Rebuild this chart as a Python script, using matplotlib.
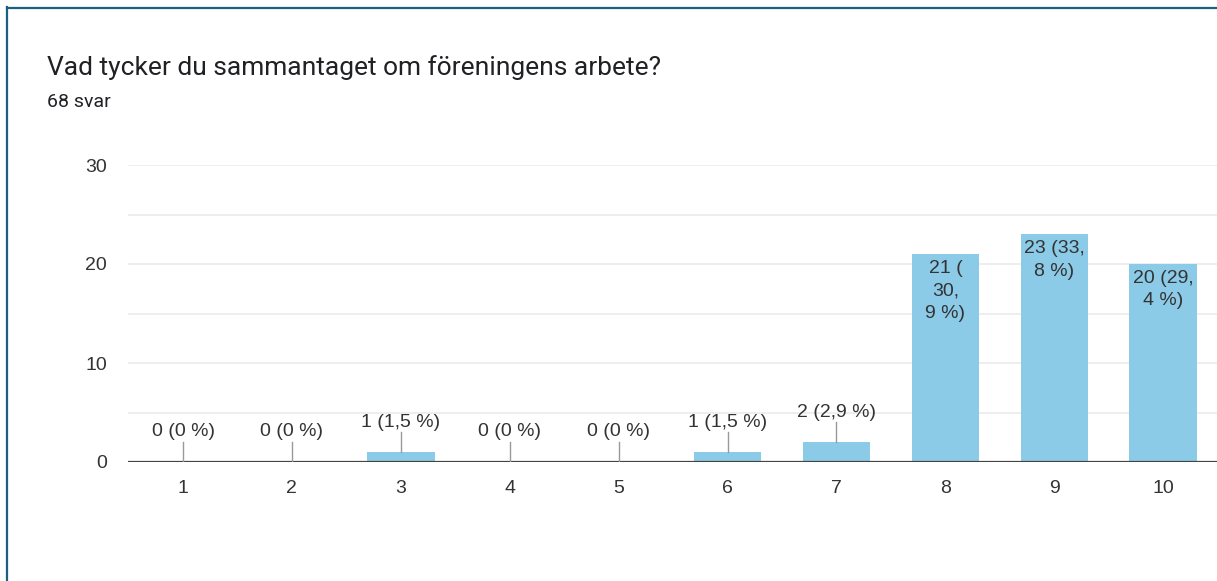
import matplotlib
matplotlib.use("Agg")
import matplotlib.pyplot as plt
from matplotlib.lines import Line2D

title = "Vad tycker du sammantaget om föreningens arbete?"
subtitle = "68 svar"
categories = ["1", "2", "3", "4", "5", "6", "7", "8", "9", "10"]
counts = [0, 0, 1, 0, 0, 1, 2, 21, 23, 20]
value_labels = ["0 (0 %)", "0 (0 %)", "1 (1,5 %)", "0 (0 %)", "0 (0 %)",
                "1 (1,5 %)", "2 (2,9 %)", "21 (\n30,\n9 %)", "23 (33,\n8 %)",
                "20 (29,\n4 %)"]
y_ticks = [0, 10, 20, 30]

W, H = 1217, 581
dpi = 100
fig = plt.figure(figsize=(W / dpi, H / dpi), dpi=dpi)
fig.patch.set_facecolor("white")

ax = fig.add_axes([128 / W, (H - 462) / H, (W - 128) / W + 0.001, (462 - 165) / H])
x = list(range(1, len(categories) + 1))
bar_color = "#8ccbe8"
ax.bar(x, counts, width=0.62, color=bar_color, zorder=2)

ax.set_xlim(0.495, 10.505)
ax.set_ylim(0, 30)
for gy in range(5, 31, 5):
    ax.axhline(gy, color="#ebebeb", lw=1.2, zorder=0)
ax.axhline(0, color="#444444", lw=1.6, zorder=3)

for s in ax.spines.values():
    s.set_visible(False)
ax.set_xticks(x)
ax.set_xticklabels(categories)
ax.set_yticks(y_ticks)
ax.tick_params(length=0, labelsize=14, colors="#333333")
ax.tick_params(axis="x", pad=13)
ax.tick_params(axis="y", pad=15)
for lab in ax.get_xticklabels() + ax.get_yticklabels():
    lab.set_fontfamily("Liberation Sans")

px = 30 / (462 - 165)  # data units per pixel
for xi, c, lab in zip(x, counts, value_labels):
    if c < 5:
        ax.plot([xi, xi], [c, c + 20 * px], color="#999999", lw=1, zorder=3)
        ax.text(xi, c + 30 * px, lab, ha="center", va="center", fontsize=14,
                color="#333333", family="Liberation Sans", zorder=4)
    else:
        ax.text(xi, c - 6 * px, lab, ha="center", va="top", fontsize=14,
                color="#333333", family="Liberation Sans", linespacing=1.42, zorder=4)

fig.text(47 / W, 1 - 68 / H, title, ha="left", va="center", fontsize=19,
         family="Roboto", color="#202124")
fig.text(47 / W, 1 - 102 / H, subtitle, ha="left", va="center", fontsize=14,
         family="Roboto", color="#202124")

border = "#1d5f80"
fig.add_artist(Line2D([6.5 / W, 6.5 / W], [0, 1 - 6.5 / H], transform=fig.transFigure,
                      color=border, lw=1.6))
fig.add_artist(Line2D([6.5 / W, 1], [1 - 7.5 / H, 1 - 7.5 / H], transform=fig.transFigure,
                      color=border, lw=1.6))

fig.savefig("out.png", dpi=dpi)
